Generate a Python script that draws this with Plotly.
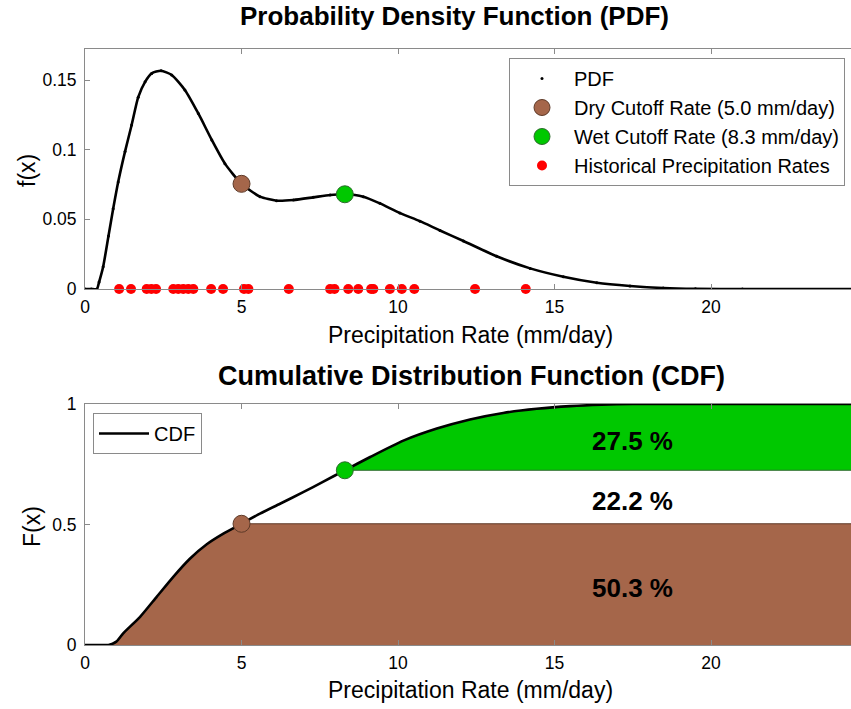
import plotly.graph_objects as go

# ---------------- data ----------------
pdf_x = [0, 0.2, 0.38, 0.45, 0.58, 0.75, 0.90, 1.06, 1.28, 1.49, 1.70, 1.92, 2.13, 2.43,
         2.77, 3.19, 3.62, 4.05, 4.47, 5.0, 5.59, 6.12, 6.66, 7.29, 7.83, 8.3, 8.89, 9.42,
         10.06, 10.70, 11.34, 12.09, 13.15, 14.22, 15.28, 16.35, 17.41, 18.47, 19.5, 21.0, 25.0]
pdf_y = [0, 0, 0, 0.005, 0.016, 0.0381, 0.0576, 0.0768, 0.0988, 0.1177, 0.1377, 0.1487, 0.1548, 0.1567,
         0.1536, 0.1429, 0.126, 0.107, 0.090, 0.0755, 0.0663, 0.0634, 0.0639, 0.0658, 0.0675, 0.068, 0.0663, 0.0615,
         0.0545, 0.0487, 0.0420, 0.0345, 0.0235, 0.0148, 0.0088, 0.0045, 0.0022, 0.0007, 0.0001, 0, 0]

cdf_x = [0, 0.5, 0.75, 1.0, 1.22, 1.76, 2.29, 2.82, 3.35, 3.89, 4.42, 5.0, 5.59, 6.23, 6.97, 7.6,
         8.3, 9.11, 10.17, 11.24, 12.30, 13.36, 14.43, 15.5, 16.5, 17.5, 25.0]
cdf_y = [0, 0, 0, 0.014, 0.0485, 0.117, 0.200, 0.283, 0.358, 0.418, 0.462, 0.503, 0.545, 0.586, 0.634, 0.677,
         0.725, 0.780, 0.848, 0.898, 0.936, 0.963, 0.980, 0.991, 0.997, 1.0, 1.0]

hist_rates = [1.09, 1.47, 1.97, 2.12, 2.27, 2.82, 2.98, 3.14, 3.30, 3.46, 4.03, 4.41, 5.08, 5.22,
              6.51, 7.83, 7.97, 8.41, 8.73, 9.14, 9.21, 9.74, 10.12, 10.52, 12.46, 14.08]

dry_rate, wet_rate = 5.0, 8.3
pdf_dry, pdf_wet = 0.0755, 0.068
cdf_dry, cdf_wet = 0.503, 0.725
pct_labels = ["50.3 %", "22.2 %", "27.5 %"]

x_ticks = [0, 5, 10, 15, 20]
pdf_ticks = [0, 0.05, 0.1, 0.15]
pdf_tick_text = ["0", "0.05", "0.1", "0.15"]
cdf_ticks = [0, 0.5, 1]
cdf_tick_text = ["0", "0.5", "1"]

# ---------------- styles ----------------
FONT = "Liberation Sans, Arial, Helvetica, sans-serif"
BROWN = "#A5664A"
BROWN_EDGE = "#5E3A28"
GREEN = "#00C800"
GREEN_EDGE = "#2E6B2E"
AXC = "#8a8a8a"
W, H = 851, 709
X_END = 24.47


def fx(p):
    return p / W


def fy(p):
    return 1 - p / H


fig = go.Figure()

# ---- PDF panel ----
fig.add_trace(go.Scatter(x=pdf_x, y=pdf_y, mode="lines",
                         line=dict(color="black", width=2.6, shape="spline", smoothing=0.6),
                         showlegend=False, xaxis="x", yaxis="y"))
fig.add_trace(go.Scatter(x=pdf_x, y=pdf_y, mode="markers", name="PDF",
                         marker=dict(color="black", size=3), legend="legend",
                         xaxis="x", yaxis="y"))
fig.add_trace(go.Scatter(x=[dry_rate], y=[pdf_dry], mode="markers",
                         name="Dry Cutoff Rate (5.0 mm/day)",
                         marker=dict(color=BROWN, size=17, line=dict(color=BROWN_EDGE, width=1)),
                         legend="legend", xaxis="x", yaxis="y"))
fig.add_trace(go.Scatter(x=[wet_rate], y=[pdf_wet], mode="markers",
                         name="Wet Cutoff Rate (8.3 mm/day)",
                         marker=dict(color=GREEN, size=17, line=dict(color=GREEN_EDGE, width=1)),
                         legend="legend", xaxis="x", yaxis="y"))
fig.add_trace(go.Scatter(x=hist_rates, y=[0] * len(hist_rates), mode="markers",
                         name="Historical Precipitation Rates",
                         marker=dict(color="#FF0000", size=10), cliponaxis=False,
                         legend="legend", xaxis="x", yaxis="y"))

# ---- CDF panel ----
bx = [x for x in cdf_x if x < dry_rate]
by = [y for x, y in zip(cdf_x, cdf_y) if x < dry_rate]
fig.add_trace(go.Scatter(x=bx + [dry_rate, cdf_x[-1], cdf_x[-1]],
                         y=by + [cdf_dry, cdf_dry, 0],
                         fill="toself", fillcolor=BROWN, mode="lines",
                         line=dict(color=BROWN_EDGE, width=1),
                         showlegend=False, hoverinfo="skip", xaxis="x2", yaxis="y2"))
gx = [x for x in cdf_x if x > wet_rate]
gy = [y for x, y in zip(cdf_x, cdf_y) if x > wet_rate]
fig.add_trace(go.Scatter(x=[wet_rate] + gx + [gx[-1], wet_rate],
                         y=[cdf_wet] + gy + [cdf_wet, cdf_wet],
                         fill="toself", fillcolor=GREEN, mode="lines",
                         line=dict(color=GREEN_EDGE, width=1),
                         showlegend=False, hoverinfo="skip", xaxis="x2", yaxis="y2"))
fig.add_trace(go.Scatter(x=cdf_x, y=cdf_y, mode="lines", name="CDF",
                         line=dict(color="black", width=2.6, shape="spline", smoothing=0.6),
                         legend="legend2", xaxis="x2", yaxis="y2"))
fig.add_trace(go.Scatter(x=[dry_rate], y=[cdf_dry], mode="markers",
                         marker=dict(color=BROWN, size=17, line=dict(color=BROWN_EDGE, width=1)),
                         showlegend=False, xaxis="x2", yaxis="y2"))
fig.add_trace(go.Scatter(x=[wet_rate], y=[cdf_wet], mode="markers",
                         marker=dict(color=GREEN, size=17, line=dict(color=GREEN_EDGE, width=1)),
                         showlegend=False, xaxis="x2", yaxis="y2"))

# ---------------- layout ----------------
xa = dict(range=[0, X_END], tickvals=x_ticks, ticks="inside", ticklen=5, tickcolor=AXC,
          showline=True, linecolor=AXC, linewidth=1, mirror="ticks", showgrid=False,
          zeroline=False, tickfont=dict(family=FONT, size=17.5, color="black"),
          domain=[fx(85), 1], ticklabelstandoff=2, automargin=False)
ya = dict(ticks="inside", ticklen=5, tickcolor=AXC, showline=True, linecolor=AXC,
          linewidth=1, mirror=False, showgrid=False, zeroline=False,
          tickfont=dict(family=FONT, size=17.5, color="black"), ticklabelstandoff=4,
          automargin=False)

leg_font = dict(family=FONT, size=20, color="black")
fig.update_layout(
    template="none",
    width=W, height=H, margin=dict(l=0, r=0, t=0, b=0, pad=0, autoexpand=False),
    paper_bgcolor="white", plot_bgcolor="white",
    font=dict(family=FONT, color="black"),
    xaxis=dict(xa, anchor="y"),
    yaxis=dict(ya, range=[0, 0.1723], tickvals=pdf_ticks, ticktext=pdf_tick_text,
               domain=[fy(289), fy(49)], anchor="x"),
    xaxis2=dict(xa, anchor="y2"),
    yaxis2=dict(ya, range=[0, 1], tickvals=cdf_ticks, ticktext=cdf_tick_text,
                domain=[fy(645), fy(404)], anchor="x2"),
    legend=dict(x=fx(509), y=fy(58), xanchor="left", yanchor="top",
                bordercolor=AXC, borderwidth=1, bgcolor="white", itemwidth=54,
                font=leg_font, traceorder="normal"),
    legend2=dict(x=fx(93), y=fy(413), xanchor="left", yanchor="top",
                 bordercolor=AXC, borderwidth=1, bgcolor="white", itemwidth=50,
                 font=leg_font),
    showlegend=True,
)

ann = []


def add_text(text, x, y, size, angle=0):
    ann.append(dict(text=text, x=fx(x), y=fy(y), xref="paper", yref="paper",
                    xanchor="center", yanchor="middle", showarrow=False,
                    textangle=angle, font=dict(size=size)))


add_text("<b>Probability Density Function (PDF)</b>", 454, 16, 26)
add_text("<b>Cumulative Distribution Function (CDF)</b>", 471, 376, 27)
add_text("Precipitation Rate (mm/day)", 470, 335, 23)
add_text("Precipitation Rate (mm/day)", 470, 690, 23)
add_text("f(x)", 27, 171, 23, -90)
add_text("F(x)", 32, 527, 23, -90)

bands = [(0 + cdf_dry) / 2, (cdf_dry + cdf_wet) / 2, (cdf_wet + 1) / 2]
for lbl, yb in zip(pct_labels, bands):
    ann.append(dict(text="<b>" + lbl + "</b>", x=17.5, y=yb, xref="x2", yref="y2",
                    xanchor="center", yanchor="middle",
                    showarrow=False, yshift=-4, font=dict(size=26)))
fig.update_layout(annotations=ann)

fig.write_html("out.html", config={"displayModeBar": False},
               post_script="document.body.style.margin='0';"
                           "document.documentElement.style.overflow='hidden';")
